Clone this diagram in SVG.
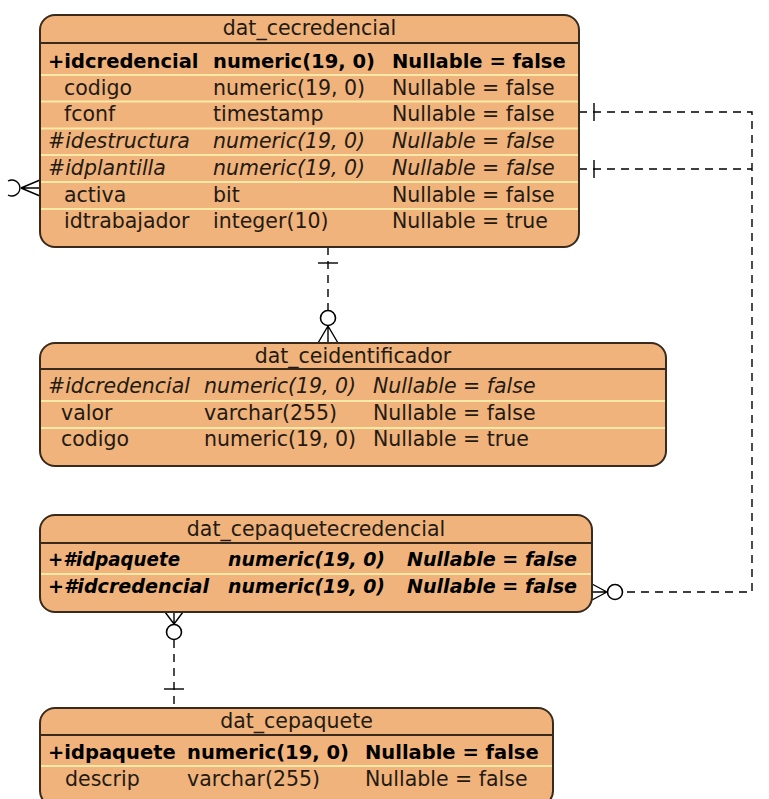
<svg xmlns="http://www.w3.org/2000/svg" width="769" height="799" viewBox="0 0 769 799">
<style>
.box{fill:#EFB37B;stroke:#3a2a1c;stroke-width:2}
.hdr{stroke:#3a2a1c;stroke-width:2}
.sep{stroke:#FBE9A8;stroke-width:2}
text{font-family:"DejaVu Sans","Liberation Sans",sans-serif;font-size:20.5px;fill:#241a12}
.b{font-weight:bold;font-size:19.5px;fill:#000}
.i{font-style:italic}
.tt{text-anchor:middle}
.ln{fill:none;stroke:#000;stroke-width:1.4}
.d{stroke-dasharray:8 6}
.c{fill:#fff;stroke:#000;stroke-width:1.6}
</style>
<rect width="769" height="799" fill="#fff"/>

<g id="connectors">
  <!-- cecredencial -> ceidentificador -->
  <path class="ln d" d="M328,247 V310"/>
  <path class="ln" d="M318,263 H338"/>
  <circle class="c" cx="328" cy="318" r="7.5"/>
  <path class="ln" d="M328,326 L318,343 M328,326 V343 M328,326 L338,343"/>
  <!-- cepaquetecredencial -> cepaquete -->
  <path class="ln" d="M174,624 L165,612 M174,624 V612 M174,624 L183,612"/>
  <circle class="c" cx="174" cy="632" r="7.5"/>
  <path class="ln d" d="M174,640 V708"/>
  <path class="ln" d="M164,689 H184"/>
  <!-- left connector end -->
  <path class="ln" d="M8,181 A8,8 0 1 1 8,195"/>
  <path class="ln" d="M21,188 L40,180 M21,188 H40 M21,188 L40,196"/>
  <!-- right connectors -->
  <path class="ln d" d="M579,112 H752 V592 H623"/>
  <path class="ln d" d="M579,169 H752"/>
  <path class="ln" d="M594,103 V121 M594,160 V178"/>
  <circle class="c" cx="615" cy="592" r="7.5"/>
  <path class="ln" d="M607,592 L592,584 M607,592 H592 M607,592 L592,600"/>
</g>

<g id="dat_cecredencial">
  <rect class="box" x="40" y="15" width="539" height="232" rx="15"/>
  <line class="hdr" x1="40" y1="43" x2="579" y2="43"/>
  <line class="sep" x1="41" y1="75" x2="578" y2="75"/>
  <line class="sep" x1="41" y1="101.5" x2="578" y2="101.5"/>
  <line class="sep" x1="41" y1="128.5" x2="578" y2="128.5"/>
  <line class="sep" x1="41" y1="155" x2="578" y2="155"/>
  <line class="sep" x1="41" y1="182" x2="578" y2="182"/>
  <line class="sep" x1="41" y1="209" x2="578" y2="209"/>
  <text class="tt" x="309.5" y="35">dat_cecredencial</text>
  <text class="b" x="48" y="67.5">+idcredencial</text>
  <text class="b" x="213" y="67.5">numeric(19, 0)</text>
  <text class="b" x="392" y="67.5">Nullable = false</text>
  <text x="64" y="94.5">codigo</text>
  <text x="213" y="94.5">numeric(19, 0)</text>
  <text x="392" y="94.5">Nullable = false</text>
  <text x="64" y="121">fconf</text>
  <text x="213" y="121">timestamp</text>
  <text x="392" y="121">Nullable = false</text>
  <text class="i" x="48" y="148">#idestructura</text>
  <text class="i" x="213" y="148">numeric(19, 0)</text>
  <text class="i" x="392" y="148">Nullable = false</text>
  <text class="i" x="48" y="174.5">#idplantilla</text>
  <text class="i" x="213" y="174.5">numeric(19, 0)</text>
  <text class="i" x="392" y="174.5">Nullable = false</text>
  <text x="64" y="201.5">activa</text>
  <text x="213" y="201.5">bit</text>
  <text x="392" y="201.5">Nullable = false</text>
  <text x="64" y="228">idtrabajador</text>
  <text x="213" y="228">integer(10)</text>
  <text x="392" y="228">Nullable = true</text>
</g>

<g id="dat_ceidentificador">
  <rect class="box" x="40" y="343" width="626" height="123" rx="15"/>
  <line class="hdr" x1="40" y1="369" x2="666" y2="369"/>
  <line class="sep" x1="41" y1="401" x2="665" y2="401"/>
  <line class="sep" x1="41" y1="428" x2="665" y2="428"/>
  <text class="tt" x="353" y="363">dat_ceidentificador</text>
  <text class="i" x="48" y="393">#idcredencial</text>
  <text class="i" x="204" y="393">numeric(19, 0)</text>
  <text class="i" x="373" y="393">Nullable = false</text>
  <text x="61" y="419.5">valor</text>
  <text x="204" y="419.5">varchar(255)</text>
  <text x="373" y="419.5">Nullable = false</text>
  <text x="61" y="446">codigo</text>
  <text x="204" y="446">numeric(19, 0)</text>
  <text x="373" y="446">Nullable = true</text>
</g>

<g id="dat_cepaquetecredencial">
  <rect class="box" x="40" y="515" width="552" height="97" rx="15"/>
  <line class="hdr" x1="40" y1="543" x2="592" y2="543"/>
  <line class="sep" x1="41" y1="574" x2="591" y2="574"/>
  <text class="tt" x="316" y="536">dat_cepaquetecredencial</text>
  <text class="b i" x="48" y="566" textLength="132" lengthAdjust="spacingAndGlyphs">+#idpaquete</text>
  <text class="b i" x="228" y="566" textLength="157" lengthAdjust="spacingAndGlyphs">numeric(19, 0)</text>
  <text class="b i" x="407" y="566" textLength="170" lengthAdjust="spacingAndGlyphs">Nullable = false</text>
  <text class="b i" x="48" y="593" textLength="161" lengthAdjust="spacingAndGlyphs">+#idcredencial</text>
  <text class="b i" x="228" y="593" textLength="157" lengthAdjust="spacingAndGlyphs">numeric(19, 0)</text>
  <text class="b i" x="407" y="593" textLength="170" lengthAdjust="spacingAndGlyphs">Nullable = false</text>
</g>

<g id="dat_cepaquete">
  <rect class="box" x="40" y="708" width="513" height="98" rx="15"/>
  <line class="hdr" x1="40" y1="735" x2="553" y2="735"/>
  <line class="sep" x1="41" y1="766" x2="552" y2="766"/>
  <text class="tt" x="296.5" y="728">dat_cepaquete</text>
  <text class="b" x="48" y="759">+idpaquete</text>
  <text class="b" x="187" y="759">numeric(19, 0)</text>
  <text class="b" x="365" y="759">Nullable = false</text>
  <text x="65" y="786">descrip</text>
  <text x="187" y="786">varchar(255)</text>
  <text x="365" y="786">Nullable = false</text>
</g>
</svg>
